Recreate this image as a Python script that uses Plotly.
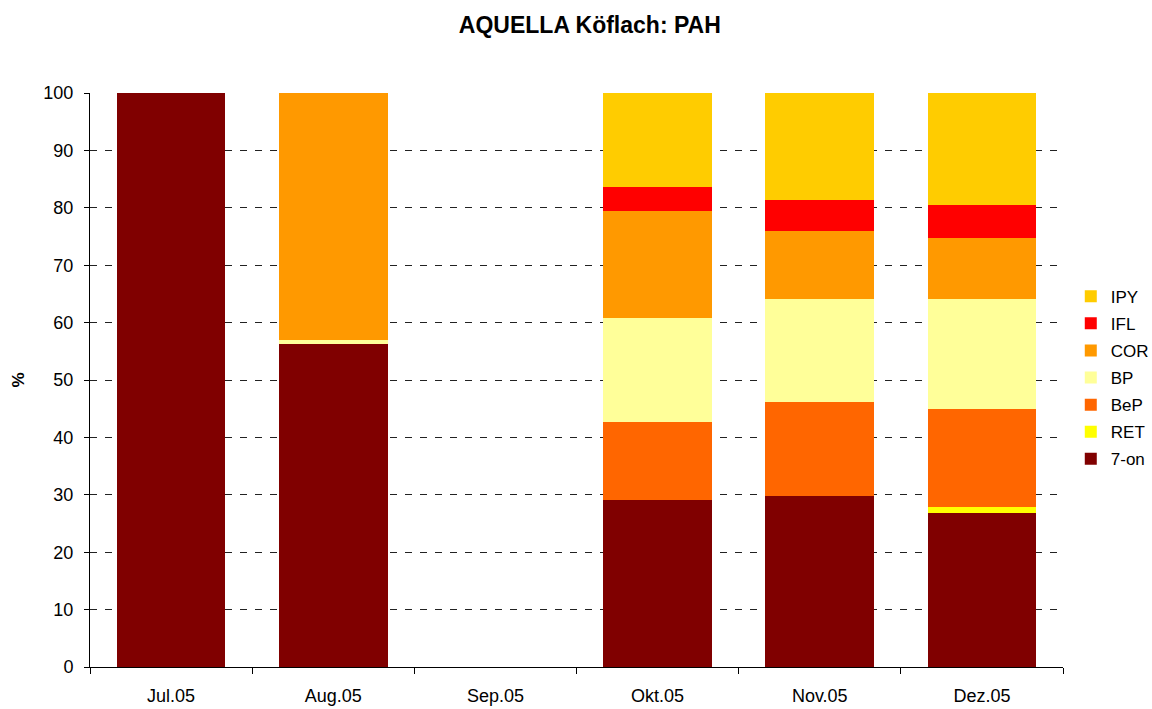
import plotly.graph_objects as go

categories = ["Jul.05", "Aug.05", "Sep.05", "Okt.05", "Nov.05", "Dez.05"]

series_names = ["7-on", "RET", "BeP", "BP", "COR", "IFL", "IPY"]
series_colors = ["#800000", "#FFFF00", "#FF6600", "#FFFF99", "#FF9900", "#FF0000", "#FFCC00"]

v_7on = [100.0, 56.3, None, 29.1, 29.8, 26.8]
v_RET = [0.0, 0.0, None, 0.0, 0.0, 1.1]
v_BeP = [0.0, 0.0, None, 13.6, 16.4, 17.0]
v_BP = [0.0, 0.6, None, 18.1, 17.9, 19.2]
v_COR = [0.0, 43.1, None, 18.6, 11.9, 10.6]
v_IFL = [0.0, 0.0, None, 4.2, 5.4, 5.8]
v_IPY = [0.0, 0.0, None, 16.4, 18.6, 19.5]

series_values = [v_7on, v_RET, v_BeP, v_BP, v_COR, v_IFL, v_IPY]

FONT = "Liberation Sans, Arial, sans-serif"

fig = go.Figure()
n = len(series_names)
for i, (name, color, vals) in enumerate(zip(series_names, series_colors, series_values)):
    fig.add_trace(go.Bar(
        x=categories, y=vals, name=name,
        marker=dict(color=color, line=dict(width=0)),
        legendgroup=name,
        legendrank=n - i,
    ))

fig.update_layout(
    barmode="stack",
    bargap=0.33,
    width=1152, height=709,
    margin=dict(l=90, r=89, t=93, b=42, autoexpand=False),
    paper_bgcolor="white", plot_bgcolor="white",
    font=dict(family=FONT, size=18, color="black"),
    title=dict(text="<b>AQUELLA Köflach: PAH</b>", x=0.512, xanchor="center",
               xref="container", yref="container",
               y=0.965, yanchor="middle", font=dict(size=23, family=FONT)),
    legend=dict(x=1.008, xanchor="left", y=0.504, yanchor="middle",
                traceorder="grouped", tracegroupgap=2,
                font=dict(size=17, family=FONT), itemwidth=30),
    xaxis=dict(type="category", showline=True, linecolor="black", linewidth=1,
               ticks="outside", tickson="boundaries", ticklen=6, tickcolor="black",
               showgrid=False, tickfont=dict(size=18), ticklabelstandoff=12),
    yaxis=dict(range=[0, 100], dtick=10, showline=True, linecolor="black", linewidth=1,
               ticks="outside", ticklen=5, tickcolor="black",
               showgrid=True, gridcolor="#222222", griddash="7px,8px", gridwidth=1,
               zeroline=False, tickfont=dict(size=18), ticklabelstandoff=7,
               title=dict(text="<b>%</b>", font=dict(size=17), standoff=14)),
)

fig.write_html("out.html", config={"displayModeBar": False},
               post_script="document.body.style.margin='0';")
